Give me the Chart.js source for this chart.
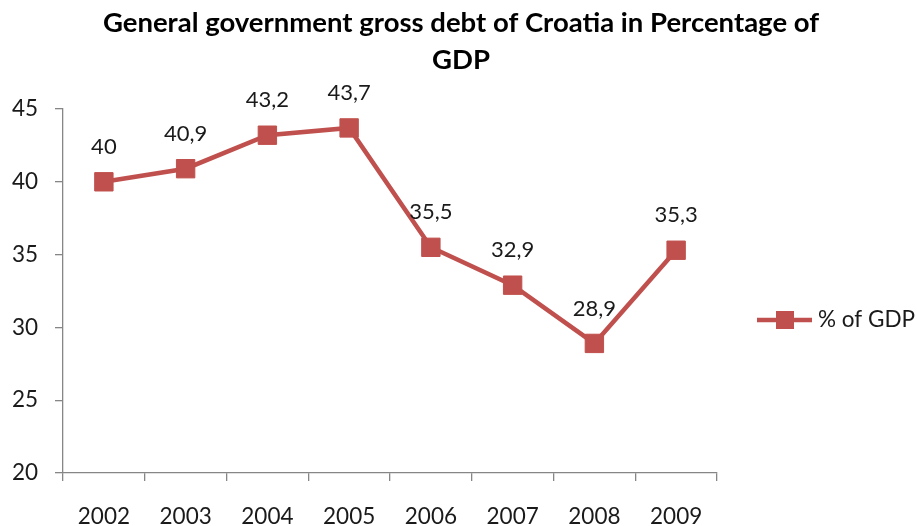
<!DOCTYPE html>
<html>
<head>
<meta charset="utf-8">
<script src="https://cdn.jsdelivr.net/npm/chart.js@4/dist/chart.umd.min.js"></script>
<style>
  html, body { margin: 0; padding: 0; background: #ffffff; }
  #wrap { width: 917px; height: 526px; }
</style>
</head>
<body>
<div id="wrap"><canvas id="c" width="917" height="526"></canvas></div>
<script>
const titleLines = ['General government gross debt of Croatia in Percentage of', 'GDP'];
const years = ['2002', '2003', '2004', '2005', '2006', '2007', '2008', '2009'];
const debtPct = [40, 40.9, 43.2, 43.7, 35.5, 32.9, 28.9, 35.3];
const seriesName = '% of GDP';
const yTicks = { min: 20, max: 45, step: 5 };

const FONT = "'Lato', 'Open Sans', sans-serif";
const RED = '#C0504D';
const AXIS = '#868686';
const TEXT = '#1a1a1a';

// Title, value labels and legend are painted by this plugin
const decor = {
  id: 'decor',
  afterDatasetsDraw(chart) {
    const ctx = chart.ctx;
    ctx.save();
    // title
    ctx.fillStyle = '#000000';
    ctx.font = "bold 27.5px " + FONT;
    ctx.textAlign = 'center';
    ctx.textBaseline = 'middle';
    ctx.fillText(titleLines[0], 461, 23);
    ctx.fillText(titleLines[1], 461, 60);

    // value labels above each point
    const meta = chart.getDatasetMeta(0);
    ctx.fillStyle = TEXT;
    ctx.font = "22px " + FONT;
    meta.data.forEach((pt, i) => {
      const txt = String(debtPct[i]).replace('.', ',');
      ctx.fillText(txt, pt.x, pt.y - 35);
    });

    // legend: line with square marker, then the series name
    const ly = 320;
    ctx.strokeStyle = RED;
    ctx.lineWidth = 4.5;
    ctx.beginPath();
    ctx.moveTo(757, ly);
    ctx.lineTo(812, ly);
    ctx.stroke();
    ctx.fillStyle = RED;
    ctx.fillRect(776, ly - 9, 18, 18);
    ctx.fillStyle = TEXT;
    ctx.textAlign = 'left';
    ctx.font = "22.5px " + FONT;
    ctx.fillText(chart.data.datasets[0].label, 818, ly);
    ctx.restore();
  }
};

new Chart(document.getElementById('c'), {
  type: 'line',
  data: {
    labels: years,
    datasets: [{
      label: seriesName,
      data: debtPct,
      borderColor: RED,
      backgroundColor: RED,
      borderWidth: 4.5,
      pointStyle: 'rect',
      pointRadius: 13,
      pointHoverRadius: 13,
      pointBorderWidth: 1,
      pointBorderColor: RED,
      pointBackgroundColor: RED,
      tension: 0,
      fill: false
    }]
  },
  options: {
    responsive: false,
    animation: false,
    events: [],
    layout: { padding: { top: 109, right: 200, bottom: 0, left: 0 } },
    plugins: {
      legend: { display: false },
      title: { display: false },
      tooltip: { enabled: false }
    },
    scales: {
      x: {
        type: 'category',
        offset: true,
        grid: {
          display: true,
          offset: true,
          drawOnChartArea: false,
          drawTicks: true,
          tickLength: 8,
          color: AXIS,
          lineWidth: 1.3
        },
        border: { display: true, color: AXIS, width: 1.3 },
        ticks: {
          color: TEXT,
          font: { family: FONT, size: 22.5 },
          padding: 22,
          maxRotation: 0
        },
        afterFit(s) { s.height = 53; }
      },
      y: {
        min: yTicks.min,
        max: yTicks.max,
        grid: {
          display: true,
          drawOnChartArea: false,
          drawTicks: true,
          tickLength: 8,
          color: AXIS,
          lineWidth: 1.3
        },
        border: { display: true, color: AXIS, width: 1.3 },
        ticks: {
          stepSize: yTicks.step,
          color: TEXT,
          font: { family: FONT, size: 22.5 },
          padding: 17
        },
        afterFit(s) { s.width = 63; }
      }
    }
  },
  plugins: [decor]
});
</script>
</body>
</html>
